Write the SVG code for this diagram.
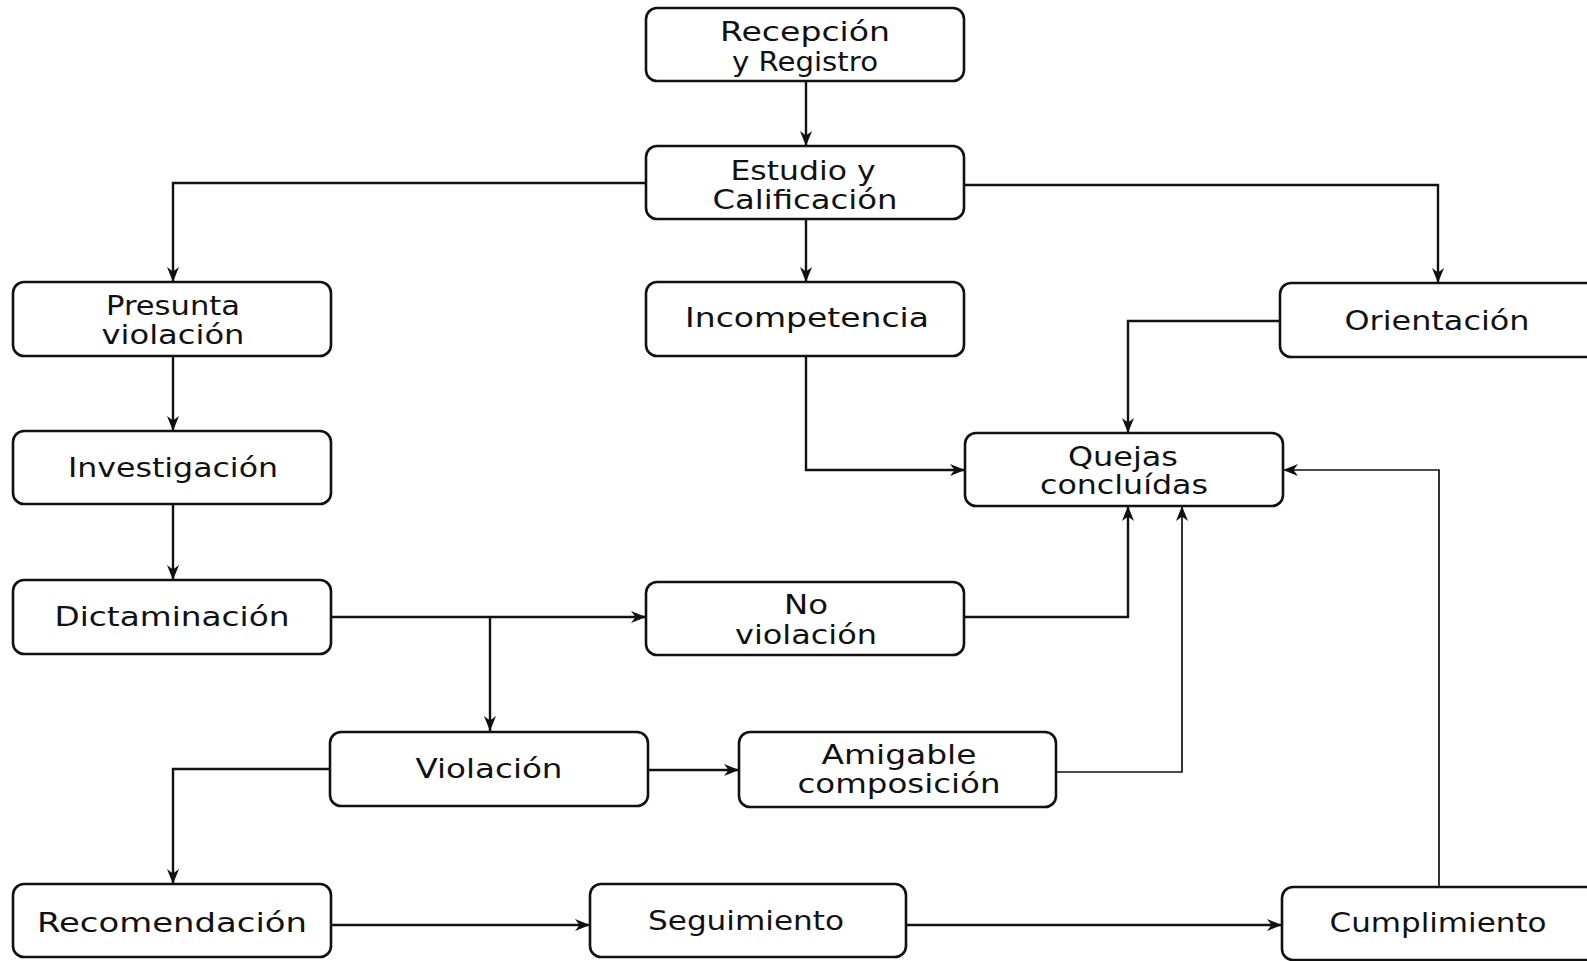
<svg xmlns="http://www.w3.org/2000/svg" width="1587" height="961" viewBox="0 0 1587 961">
<style>
.box{fill:#fff;stroke:#111;stroke-width:2.6}
.lbl{font-family:"DejaVu Sans","Liberation Sans",sans-serif;font-size:26px;fill:#111;text-anchor:middle}
.con{fill:none;stroke:#111;stroke-width:2.4}
.thin{stroke-width:1.7}
</style>
<defs>
<marker id="ah" markerUnits="userSpaceOnUse" markerWidth="16" markerHeight="14" viewBox="0 0 16 14" refX="15" refY="7" orient="auto">
<path d="M0,1 L15,7 L0,13 L4.5,7 Z" fill="#111"/>
</marker>
</defs>
<rect width="1587" height="961" fill="#fff"/>
<g id="connectors">
<path class="con" d="M806,81 V146" marker-end="url(#ah)"/>
<path class="con" d="M646,183 H173 V282" marker-end="url(#ah)"/>
<path class="con" d="M806,219 V282" marker-end="url(#ah)"/>
<path class="con" d="M964,185 H1438 V283" marker-end="url(#ah)"/>
<path class="con" d="M173,356 V431" marker-end="url(#ah)"/>
<path class="con" d="M173,504 V580" marker-end="url(#ah)"/>
<path class="con" d="M331,617 H646" marker-end="url(#ah)"/>
<path class="con" d="M490,617 V731" marker-end="url(#ah)"/>
<path class="con" d="M330,769 H173 V884" marker-end="url(#ah)"/>
<path class="con" d="M648,770 H739" marker-end="url(#ah)"/>
<path class="con" d="M331,925 H590" marker-end="url(#ah)"/>
<path class="con" d="M906,925 H1282" marker-end="url(#ah)"/>
<path class="con thin" d="M1439,887 V470 H1283" marker-end="url(#ah)"/>
<path class="con" d="M806,356 V470 H965" marker-end="url(#ah)"/>
<path class="con" d="M1280,321 H1128 V433" marker-end="url(#ah)"/>
<path class="con" d="M964,617 H1128 V506" marker-end="url(#ah)"/>
<path class="con thin" d="M1056,772 H1182 V506" marker-end="url(#ah)"/>
</g>
<g id="recepcion"><rect class="box" x="646" y="8" width="318" height="73" rx="11"/>
<text class="lbl" x="805" y="41" textLength="170" lengthAdjust="spacingAndGlyphs">Recepción</text>
<text class="lbl" x="805" y="71" textLength="146" lengthAdjust="spacingAndGlyphs">y Registro</text></g>
<g id="estudio"><rect class="box" x="646" y="146" width="318" height="73" rx="11"/>
<text class="lbl" x="803" y="180" textLength="145" lengthAdjust="spacingAndGlyphs">Estudio y</text>
<text class="lbl" x="805" y="209" textLength="185" lengthAdjust="spacingAndGlyphs">Calificación</text></g>
<g id="presunta"><rect class="box" x="13" y="282" width="318" height="74" rx="11"/>
<text class="lbl" x="173" y="315" textLength="134" lengthAdjust="spacingAndGlyphs">Presunta</text>
<text class="lbl" x="173" y="344" textLength="143" lengthAdjust="spacingAndGlyphs">violación</text></g>
<g id="incompetencia"><rect class="box" x="646" y="282" width="318" height="74" rx="11"/>
<text class="lbl" x="807" y="327" textLength="244" lengthAdjust="spacingAndGlyphs">Incompetencia</text></g>
<g id="orientacion"><rect class="box" x="1280" y="283" width="320" height="74" rx="11"/>
<text class="lbl" x="1437" y="330" textLength="185" lengthAdjust="spacingAndGlyphs">Orientación</text></g>
<g id="investigacion"><rect class="box" x="13" y="431" width="318" height="73" rx="11"/>
<text class="lbl" x="173" y="477" textLength="210" lengthAdjust="spacingAndGlyphs">Investigación</text></g>
<g id="quejas"><rect class="box" x="965" y="433" width="318" height="73" rx="11"/>
<text class="lbl" x="1123" y="466" textLength="110" lengthAdjust="spacingAndGlyphs">Quejas</text>
<text class="lbl" x="1124" y="494" textLength="168" lengthAdjust="spacingAndGlyphs">concluídas</text></g>
<g id="dictaminacion"><rect class="box" x="13" y="580" width="318" height="74" rx="11"/>
<text class="lbl" x="172" y="626" textLength="235" lengthAdjust="spacingAndGlyphs">Dictaminación</text></g>
<g id="noviolacion"><rect class="box" x="646" y="582" width="318" height="73" rx="11"/>
<text class="lbl" x="806" y="614" textLength="44" lengthAdjust="spacingAndGlyphs">No</text>
<text class="lbl" x="806" y="644" textLength="142" lengthAdjust="spacingAndGlyphs">violación</text></g>
<g id="violacion"><rect class="box" x="330" y="732" width="318" height="74" rx="11"/>
<text class="lbl" x="489" y="778" textLength="147" lengthAdjust="spacingAndGlyphs">Violación</text></g>
<g id="amigable"><rect class="box" x="739" y="732" width="317" height="75" rx="11"/>
<text class="lbl" x="899" y="764" textLength="155" lengthAdjust="spacingAndGlyphs">Amigable</text>
<text class="lbl" x="899" y="793" textLength="203" lengthAdjust="spacingAndGlyphs">composición</text></g>
<g id="recomendacion"><rect class="box" x="13" y="884" width="318" height="73" rx="11"/>
<text class="lbl" x="172" y="932" textLength="270" lengthAdjust="spacingAndGlyphs">Recomendación</text></g>
<g id="seguimiento"><rect class="box" x="590" y="884" width="316" height="73" rx="11"/>
<text class="lbl" x="746" y="930" textLength="196" lengthAdjust="spacingAndGlyphs">Seguimiento</text></g>
<g id="cumplimiento"><rect class="box" x="1282" y="887" width="320" height="73" rx="11"/>
<text class="lbl" x="1438" y="932" textLength="217" lengthAdjust="spacingAndGlyphs">Cumplimiento</text></g>
</svg>
